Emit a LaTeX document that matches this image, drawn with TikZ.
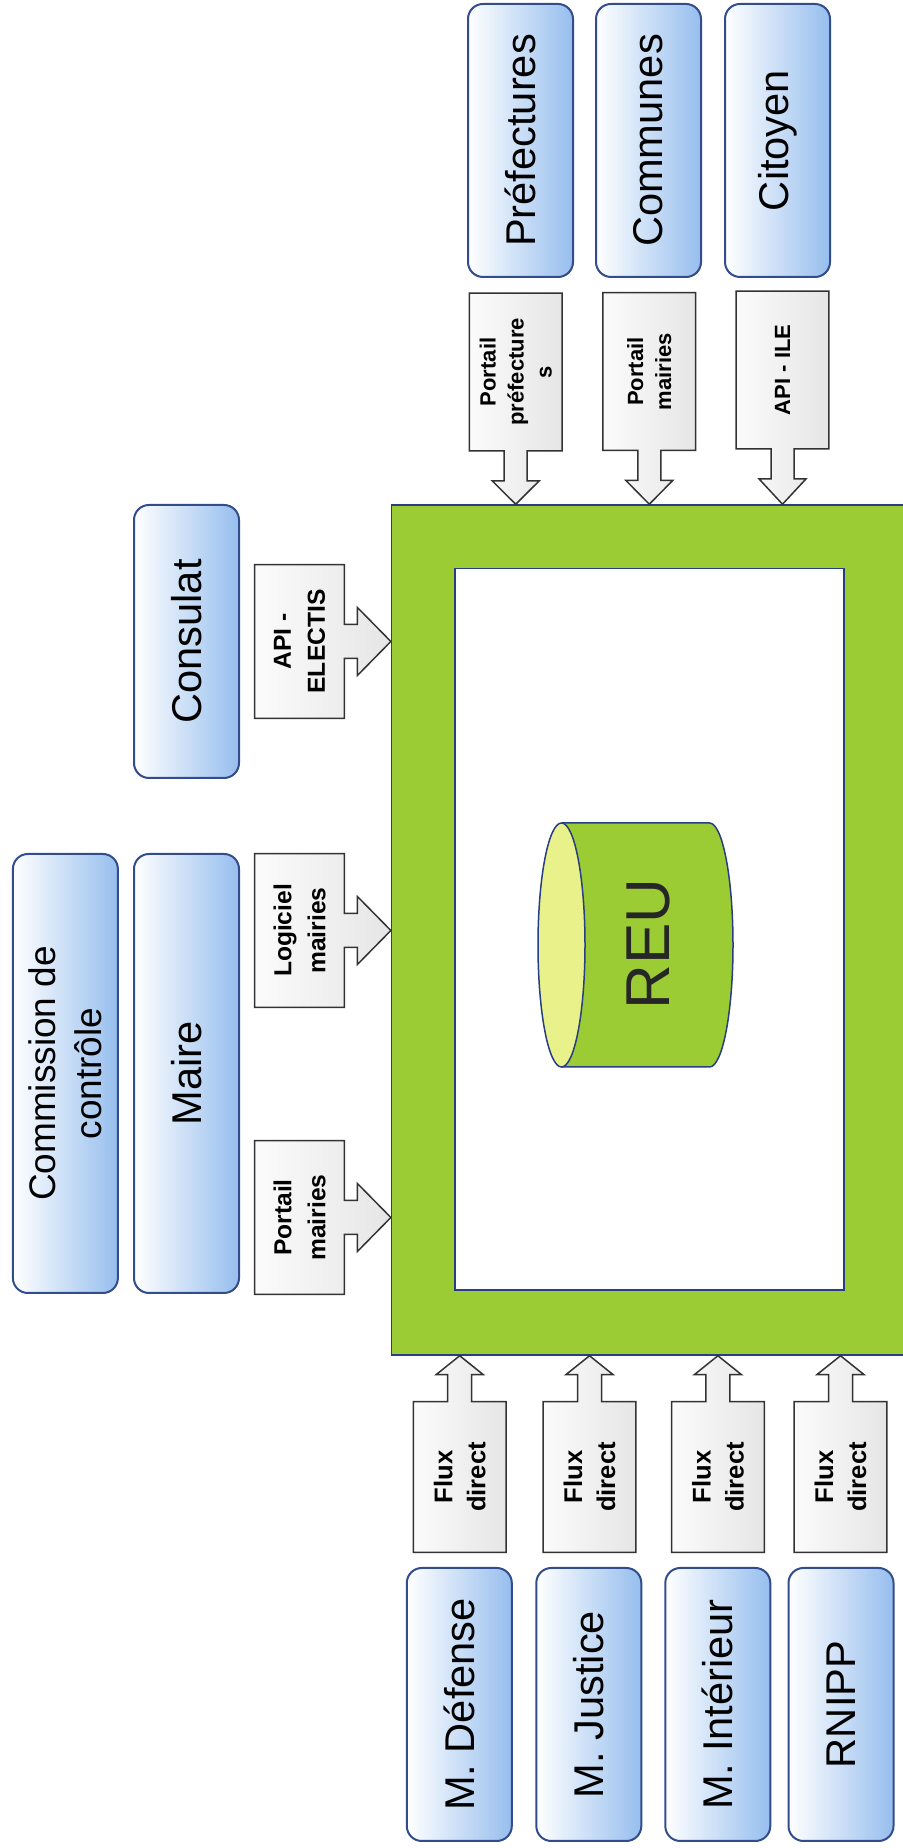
\documentclass[tikz,border=0pt]{standalone}
\usepackage{fontspec}
\setmainfont{Liberation Sans}
\definecolor{reugreen}{RGB}{155, 204, 51}
\definecolor{framenavy}{RGB}{40, 62, 130}
\definecolor{actorblue}{RGB}{150, 190, 238}
\definecolor{actorline}{RGB}{50, 76, 140}
\definecolor{capyellow}{RGB}{233, 241, 138}
\usepackage{tikz}
\usetikzlibrary{calc, backgrounds}

\begin{document}
\begin{tikzpicture}[x=0.5pt, y=0.5pt, rotate=90, transform shape,
  actor/.style={draw=actorline, line width=1pt, rounded corners=7.5pt, left color=white, right color=actorblue,
    minimum width=136.5pt, minimum height=52.5pt, inner sep=0pt, align=center, font=\fontsize{20.8}{24}\selectfont},
  flowtop/.style={minimum width=78.5pt, minimum height=46pt, inner sep=0pt, align=center, font=\bfseries\fontsize{11}{14}\selectfont},
  flowleft/.style={minimum width=76.5pt, minimum height=44.5pt, inner sep=0pt, align=center, font=\bfseries\fontsize{12.3}{17}\selectfont},
  flowbot/.style={minimum width=75pt, minimum height=46pt, inner sep=0pt, align=center, font=\bfseries\fontsize{12.8}{16.5}\selectfont},
  callout/.style={draw=black!80, line width=0.75pt, left color=gray!3, right color=gray!20}]

  \useasboundingbox (0, 0) rectangle (1848, -903);
  \clip (0, 0) rectangle (1848, -903);

  % The REU frame
  \begin{scope}[on background layer]
    \node[draw=framenavy, line width=0.75pt, fill=reugreen, minimum width=425pt, minimum height=264pt, inner sep=0pt] (frame) at (918, -655.6) {};
    \node[draw=framenavy, line width=0.75pt, fill=white, minimum width=360.7pt, minimum height=194.4pt, inner sep=0pt] (inner) at (918.7, -649.4) {};
  \end{scope}

  % Database in the middle
  \draw[framenavy, line width=0.75pt, fill=reugreen] (781, -561.5) -- (781, -709.5)
    arc[start angle=180, end angle=360, x radius=122, y radius=23.5] -- (1025, -561.5);
  \draw[framenavy, line width=0.75pt, fill=capyellow] (903, -561.5) ellipse [x radius=122, y radius=23.5];
  \node[font=\fontsize{31}{36}\selectfont, text=black!85] (reu) at (904, -648) {REU};

  % Senders on the right
  \node[actor] (pref) at (1707.5, -520.5) {Préfectures};
  \node[actor] (comm) at (1707.5, -648.5) {Communes};
  \node[actor] (cit) at (1707.5, -777.5) {Citoyen};

  % Senders at the top
  \node[actor, minimum width=219.5pt, font=\fontsize{18.5}{23}\selectfont] (commission) at (774.5, -65.4) {Commission de\\contrôle};
  \node[actor, minimum width=219.5pt] (maire) at (774.5, -186.5) {Maire};
  \node[actor] (cons) at (1206.5, -186.5) {Consulat};

  % Senders on the left
  \node[actor] (def) at (143.5, -459.3) {M. Défense};
  \node[actor] (jus) at (143.5, -588.8) {M. Justice};
  \node[actor] (int) at (143.5, -717.8) {M. Intérieur};
  \node[actor] (rnipp) at (143.5, -841) {RNIPP};

  % Channels
  \node[flowtop] (fpref) at (1476, -515.7) {Portail\\préfecture\\s};
  \node[flowtop] (fcomm) at (1476.5, -649.3) {Portail\\mairies};
  \node[flowtop] (fcit) at (1478, -782.5) {API - ILE};

  \node[flowleft] (felec) at (1206.5, -299.5) {API -\\ELECTIS};
  \node[flowleft] (flog) at (917.5, -299.5) {Logiciel\\mairies};
  \node[flowleft] (fport) at (630.5, -299.5) {Portail\\mairies};

  \node[flowbot] (fdef) at (371, -459.7) {Flux\\direct};
  \node[flowbot] (fjus) at (371, -589.5) {Flux\\direct};
  \node[flowbot] (fint) at (371, -717.9) {Flux\\direct};
  \node[flowbot] (frni) at (371, -840.5) {Flux\\direct};

  % Callout arrows into the frame
  \begin{scope}[on background layer]
    \foreach \f in {fpref, fcomm, fcit}
      \draw[callout] (\f.north west) -- (\f.north east) -- (\f.south east) -- (\f.south west)
        -- ($(\f.west)+(0,-11.5)$) -- ++(-30,0) -- ++(0,-12) -- (frame.east |- \f.west)
        -- ($(\f.west)+(-30,23.5)$) -- ++(0,-12) -- ($(\f.west)+(0,11.5)$) -- cycle;
    \foreach \f in {felec, flog, fport}
      \draw[callout] (\f.south west) -- (\f.north west) -- (\f.north east) -- (\f.south east)
        -- ($(\f.south)+(17,0)$) -- ++(0,-13) -- ++(17,0) -- (\f.south |- frame.north)
        -- ($(\f.south)+(-34,-13)$) -- ++(17,0) -- ($(\f.south)+(-17,0)$) -- cycle;
    \foreach \f in {fdef, fjus, fint, frni}
      \draw[callout] (\f.south east) -- (\f.south west) -- (\f.north west) -- (\f.north east)
        -- ($(\f.east)+(0,12)$) -- ++(27,0) -- ++(0,11.5) -- (frame.west |- \f.east)
        -- ($(\f.east)+(27,-23.5)$) -- ++(0,11.5) -- ($(\f.east)+(0,-12)$) -- cycle;
  \end{scope}
\end{tikzpicture}
\end{document}
